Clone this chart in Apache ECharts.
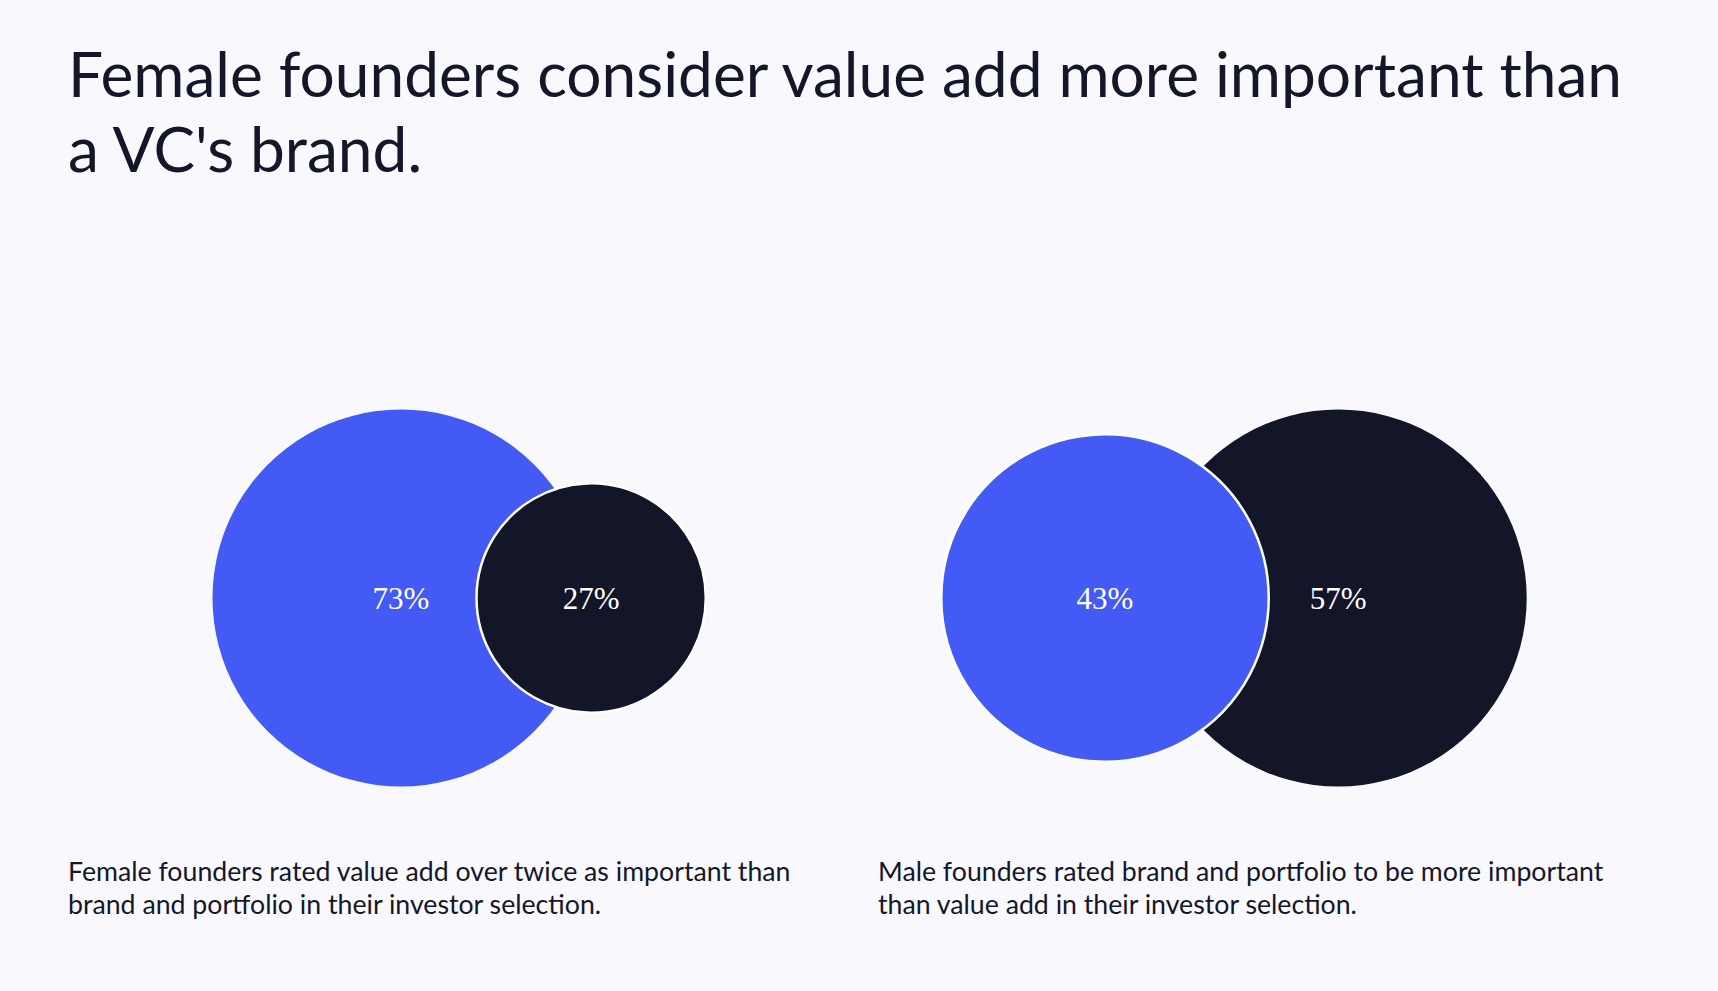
<!DOCTYPE html>
<html>
<head>
<meta charset="utf-8">
<script src="https://cdn.jsdelivr.net/npm/echarts@6/dist/echarts.min.js"></script>
<style>
  html, body { margin: 0; padding: 0; background: #F9F9FD; }
  #chart { width: 1718px; height: 991px; }
</style>
</head>
<body>
<div id="chart"></div>
<script>
// ---- data ----
const titleText = "Female founders consider value add more important than\na VC's brand.";
const panelNames = ["Female founders", "Male founders"];
const categories = ["Value add", "Brand and portfolio"];
const femaleValues = [73, 27];
const maleValues = [43, 57];
const captions = [
  "Female founders rated value add over twice as important than\nbrand and portfolio in their investor selection.",
  "Male founders rated brand and portfolio to be more important\nthan value add in their investor selection."
];

// ---- layout / style ----
const W = 1718, H = 991;
const BLUE = "#435AF4", DARK = "#131628";
const colors = [BLUE, DARK];
const maxDiameter = 377;          // diameter of the larger circle in each panel
const overlapDepth = [113, 119];  // how far circles overlap (px) per panel
const panelAnchorX = [401, 1105];
const centerY = 598;

function buildPanel(values, anchorX, overlap) {
  const maxV = Math.max.apply(null, values);
  const diam = values.map(v => maxDiameter * Math.sqrt(v / maxV));
  const r = diam.map(d => d / 2);
  const cx0 = anchorX;
  const cx1 = anchorX + r[0] + r[1] - overlap;
  const pts = [
    { value: [cx0, centerY, values[0]], name: categories[0], size: diam[0], color: colors[0] },
    { value: [cx1, centerY, values[1]], name: categories[1], size: diam[1], color: colors[1] }
  ];
  // draw larger first, smaller on top with white outline
  pts.sort((a, b) => b.size - a.size);
  return pts.map((p, i) => ({
    name: p.name,
    value: p.value,
    symbolSize: p.size,
    itemStyle: {
      color: p.color,
      opacity: 1,
      borderColor: i === 1 ? "#FFFFFF" : "transparent",
      borderWidth: i === 1 ? 2.5 : 0
    }
  }));
}

const chart = echarts.init(document.getElementById("chart"), null, { renderer: "svg" });
const panels = [femaleValues, maleValues];

const series = panels.map((vals, idx) => ({
  type: "scatter",
  name: panelNames[idx],
  symbol: "circle",
  data: buildPanel(vals, panelAnchorX[idx], overlapDepth[idx]),
  itemStyle: { opacity: 1 },
  label: {
    show: true,
    position: "inside",
    formatter: p => p.value[2] + "%",
    color: "#FFFFFF",
    fontFamily: "Liberation Serif, 'Times New Roman', serif",
    fontSize: 31
  },
  emphasis: { disabled: true },
  silent: true
}));

chart.setOption({
  backgroundColor: "#F9F9FD",
  animation: false,
  title: [
    {
      text: titleText,
      left: 63, top: 30,
      textStyle: { fontFamily: "Lato", fontWeight: "normal", fontSize: 62.2, lineHeight: 75, color: "#14172A" }
    },
    {
      text: captions[0],
      left: 63, top: 849,
      textStyle: { fontFamily: "Lato", fontWeight: "normal", fontSize: 26.7, lineHeight: 33, color: "#14172A" }
    },
    {
      text: captions[1],
      left: 873, top: 849,
      textStyle: { fontFamily: "Lato", fontWeight: "normal", fontSize: 26.7, lineHeight: 33, color: "#14172A" }
    }
  ],
  grid: { left: 0, right: 0, top: 0, bottom: 0 },
  xAxis: { type: "value", min: 0, max: W, show: false },
  yAxis: { type: "value", min: 0, max: H, inverse: true, show: false },
  series: series
});
</script>
</body>
</html>
